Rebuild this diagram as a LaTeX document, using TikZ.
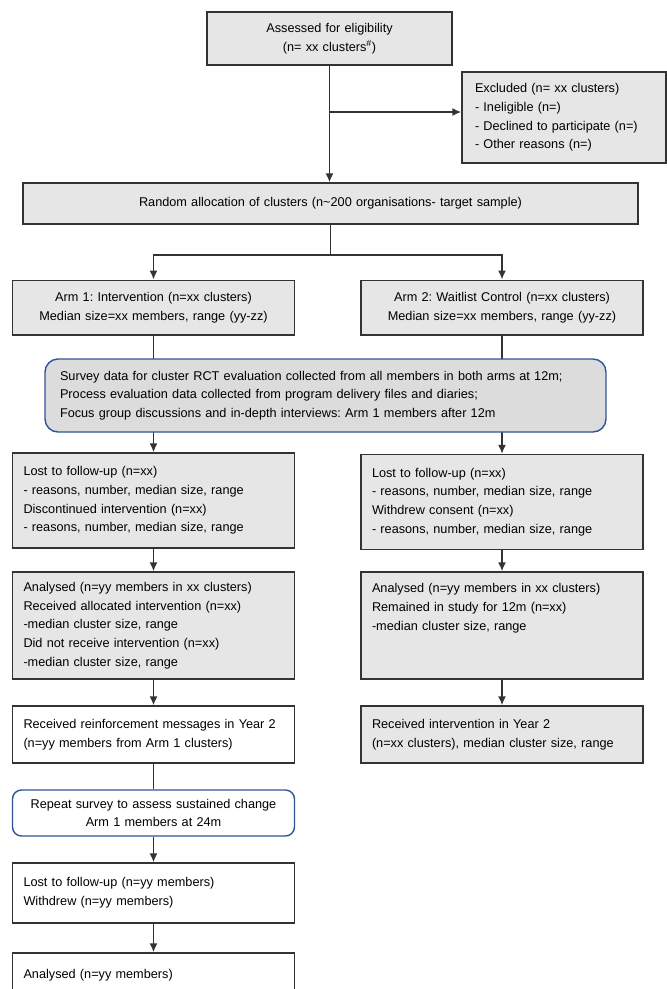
\documentclass[tikz,border=0pt]{standalone}
\usepackage{fontspec}
\setmainfont{Liberation Sans}
\frenchspacing
\usetikzlibrary{arrows.meta,backgrounds}

\definecolor{boxgray}{HTML}{E6E6E6}
\definecolor{surveygray}{HTML}{DCDCDC}
\definecolor{edgegray}{HTML}{333333}
\definecolor{roundblue}{HTML}{2F5597}

\begin{document}
\begin{tikzpicture}[
        x=1pt, y=-1pt,
        every node/.style={font=\fontsize{12.7}{18.7}\selectfont},
        box/.style={rectangle, draw=edgegray, line width=1.5pt, fill=boxgray, inner xsep=11pt, inner ysep=0pt, minimum width=282pt, text width=260pt, align=left},
        cbox/.style={box, align=center},
        whitebox/.style={box, fill=white},
        roundbox/.style={rectangle, rounded corners=9pt, draw=roundblue, line width=1.4pt, fill=surveygray, inner xsep=15pt, inner ysep=0pt, align=left},
        arrow/.style={-{Latex[length=9pt,width=8pt]}, line width=1.5pt, edgegray},
        line/.style={line width=1.5pt, edgegray}
    ]
    \clip (0,0) rectangle (667,989);

    % Enrolment
    \node[cbox, minimum width=245pt, text width=223pt, minimum height=53pt] (assess) at (329.5,38.5) {Assessed for eligibility\\(n= xx clusters\textsuperscript{\#})};
    \node[box, minimum width=204pt, text width=178pt, inner xsep=13pt, minimum height=91pt] (excl) at (564,117.5) {Excluded (n= xx clusters)\\- Ineligible (n=)\\- Declined to participate (n=)\\- Other reasons (n=)};
    \coordinate (split) at (329.5,112);

    % Allocation
    \node[cbox, minimum width=615pt, text width=593pt, minimum height=41pt] (rand) at (330.5,203.5) {Random allocation of clusters (n\textasciitilde200 organisations- target sample)};
    \coordinate (fork) at (330.5,255);

    \node[cbox, minimum height=54.5pt] (arm1) at (153.5,307.5) {Arm 1: Intervention (n=xx clusters)\\Median size=xx members, range (yy-zz)};
    \node[cbox, minimum height=54.5pt] (arm2) at (502,307.5) {Arm 2: Waitlist Control (n=xx clusters)\\Median size=xx members, range (yy-zz)};

    % Data collection at 12m
    \node[roundbox, minimum width=561pt, text width=531pt, minimum height=73pt, rounded corners=13pt] (survey) at (325.5,395.5) {Survey data for cluster RCT evaluation collected from all members in both arms at 12m;\\Process evaluation data collected from program delivery files and diaries;\\Focus group discussions and in-depth interviews: Arm 1 members after 12m};

    % Follow-up (Arm 1)
    \node[box, minimum height=95pt] (lost1) at (153.5,500.5) {Lost to follow-up (n=xx)\\- reasons, number, median size, range\\Discontinued intervention (n=xx)\\- reasons, number, median size, range};
    \node[box, minimum height=107pt] (ana1) at (153.5,625.5) {Analysed (n=yy members in xx clusters)\\Received allocated intervention (n=xx)\\-median cluster size, range\\Did not receive intervention (n=xx)\\-median cluster size, range};
    \node[whitebox, minimum height=57pt] (reinf) at (153.5,734.5) {Received reinforcement messages in Year 2\\(n=yy members from Arm 1 clusters)};
    \node[roundbox, fill=white, inner xsep=11pt, minimum width=282pt, text width=260pt, align=center, minimum height=46pt] (repeat) at (153.5,813) {Repeat survey to assess sustained change\\Arm 1 members at 24m};
    \node[whitebox, minimum height=60pt] (lost3) at (153.5,893) {Lost to follow-up (n=yy members)\\Withdrew (n=yy members)};
    \node[whitebox, minimum height=44pt] (final) at (153.5,975) {Analysed (n=yy members)};

    % Follow-up (Arm 2)
    \node[box, minimum height=95pt] (lost2) at (502,502) {Lost to follow-up (n=xx)\\- reasons, number, median size, range\\Withdrew consent (n=xx)\\- reasons, number, median size, range};
    \node[box, minimum height=107pt] (ana2) at (502,625.5) {Analysed (n=yy members in xx clusters)\\Remained in study for 12m (n=xx)\\-median cluster size, range\\~\\~};
    \node[box, minimum height=57pt] (recv2) at (502,734.5) {Received intervention in Year 2\\(n=xx clusters), median cluster size, range};

    % Connectors
    \begin{scope}[on background layer]
    \draw[arrow] (assess.south) -- (assess.south |- rand.north);
    \draw[arrow] (split) -- (split -| excl.west);
    \draw[line] (rand.south) -- (fork);
    \draw[arrow] (fork) -| (arm1.north);
    \draw[arrow] (fork) -| (arm2.north);
    \draw[arrow] (arm1.south) -- (lost1.north);
    \draw[arrow] (arm2.south) -- (lost2.north);
    \draw[arrow] (lost1) -- (ana1);
    \draw[arrow] (ana1) -- (reinf);
    \draw[line] (reinf) -- (repeat);
    \draw[arrow] (repeat) -- (lost3);
    \draw[arrow] (lost3) -- (final);
    \draw[arrow] (lost2) -- (ana2);
    \draw[arrow] (ana2) -- (recv2);
    \end{scope}

    \end{tikzpicture}
\end{document}
